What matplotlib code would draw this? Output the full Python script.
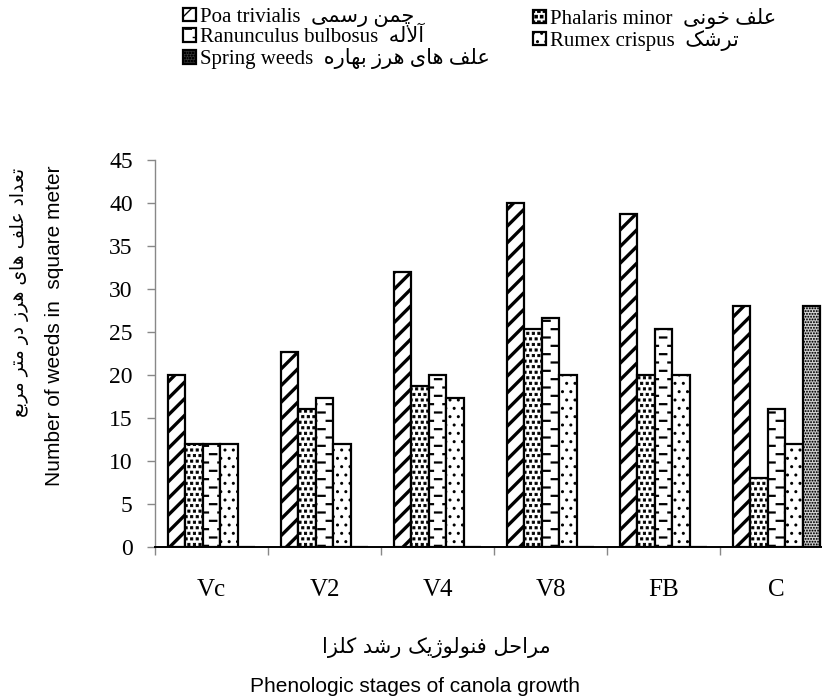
import warnings
warnings.filterwarnings('ignore')
import numpy as np
import matplotlib
matplotlib.use('Agg')
import matplotlib.pyplot as plt
from matplotlib import hatch as mhatch
from matplotlib.path import Path
from matplotlib.patches import Patch

# ---------------- data ----------------
categories = ['Vc', 'V2', 'V4', 'V8', 'FB', 'C']
poa = [20, 22.67, 32, 40, 38.67, 28]
phalaris = [12, 16, 18.67, 25.33, 20, 8]
ranunculus = [12, 17.33, 20, 26.67, 25.33, 16]
rumex = [12, 12, 17.33, 20, 20, 12]
spring = [0, 0, 0, 0, 0, 28]
yticks = [0, 5, 10, 15, 20, 25, 30, 35, 40, 45]

names_en = ['Poa trivialis', 'Phalaris minor', 'Ranunculus bulbosus',
            'Rumex crispus', 'Spring weeds']
names_fa = ['چمن رسمی', 'علف خونی', 'آلاله', 'ترشک', 'علف های هرز بهاره']
ylabel_fa = 'تعداد علف های هرز در متر مربع'
ylabel_en = 'Number of weeds in  square meter'
xlabel_fa = 'مراحل فنولوژیک رشد کلزا'
xlabel_en = 'Phenologic stages of canola growth'

# ---------------- minimal Persian shaping ----------------
FORMS = {
    '\u0627': ('\uFE8D', '\uFE8E', None, None),
    '\u0622': ('\uFE81', '\uFE82', None, None),
    '\u0628': ('\uFE8F', '\uFE90', '\uFE91', '\uFE92'),
    '\u067E': ('\uFB56', '\uFB57', '\uFB58', '\uFB59'),
    '\u062A': ('\uFE95', '\uFE96', '\uFE97', '\uFE98'),
    '\u062B': ('\uFE99', '\uFE9A', '\uFE9B', '\uFE9C'),
    '\u062C': ('\uFE9D', '\uFE9E', '\uFE9F', '\uFEA0'),
    '\u0686': ('\uFB7A', '\uFB7B', '\uFB7C', '\uFB7D'),
    '\u062D': ('\uFEA1', '\uFEA2', '\uFEA3', '\uFEA4'),
    '\u062E': ('\uFEA5', '\uFEA6', '\uFEA7', '\uFEA8'),
    '\u062F': ('\uFEA9', '\uFEAA', None, None),
    '\u0630': ('\uFEAB', '\uFEAC', None, None),
    '\u0631': ('\uFEAD', '\uFEAE', None, None),
    '\u0632': ('\uFEAF', '\uFEB0', None, None),
    '\u0698': ('\uFB8A', '\uFB8B', None, None),
    '\u0633': ('\uFEB1', '\uFEB2', '\uFEB3', '\uFEB4'),
    '\u0634': ('\uFEB5', '\uFEB6', '\uFEB7', '\uFEB8'),
    '\u0635': ('\uFEB9', '\uFEBA', '\uFEBB', '\uFEBC'),
    '\u0636': ('\uFEBD', '\uFEBE', '\uFEBF', '\uFEC0'),
    '\u0637': ('\uFEC1', '\uFEC2', '\uFEC3', '\uFEC4'),
    '\u0638': ('\uFEC5', '\uFEC6', '\uFEC7', '\uFEC8'),
    '\u0639': ('\uFEC9', '\uFECA', '\uFECB', '\uFECC'),
    '\u063A': ('\uFECD', '\uFECE', '\uFECF', '\uFED0'),
    '\u0641': ('\uFED1', '\uFED2', '\uFED3', '\uFED4'),
    '\u0642': ('\uFED5', '\uFED6', '\uFED7', '\uFED8'),
    '\u06A9': ('\uFB8E', '\uFB8F', '\uFB90', '\uFB91'),
    '\u06AF': ('\uFB92', '\uFB93', '\uFB94', '\uFB95'),
    '\u0644': ('\uFEDD', '\uFEDE', '\uFEDF', '\uFEE0'),
    '\u0645': ('\uFEE1', '\uFEE2', '\uFEE3', '\uFEE4'),
    '\u0646': ('\uFEE5', '\uFEE6', '\uFEE7', '\uFEE8'),
    '\u0647': ('\uFEE9', '\uFEEA', '\uFEEB', '\uFEEC'),
    '\u0648': ('\uFEED', '\uFEEE', None, None),
    '\u06CC': ('\uFBFC', '\uFBFD', '\uFBFE', '\uFBFF'),
}
LAMALEF = {'\u0627': ('\uFEFB', '\uFEFC'), '\u0622': ('\uFEF5', '\uFEF6')}


def shape(text):
    ch = list(text)
    n = len(ch)
    out = []

    def joins_next(c):
        return c in FORMS and FORMS[c][2] is not None

    i = 0
    while i < n:
        c = ch[i]
        if c not in FORMS:
            out.append(c)
            i += 1
            continue
        prev = ch[i - 1] if i > 0 else None
        cp = prev is not None and joins_next(prev)
        if c == '\u0644' and i + 1 < n and ch[i + 1] in LAMALEF:
            lig = LAMALEF[ch[i + 1]]
            out.append(lig[1] if cp else lig[0])
            i += 2
            continue
        nxt = ch[i + 1] if i + 1 < n else None
        cn = joins_next(c) and nxt is not None and nxt in FORMS
        iso, fin, ini, med = FORMS[c]
        if cp and cn:
            out.append(med)
        elif cp:
            out.append(fin)
        elif cn:
            out.append(ini)
        else:
            out.append(iso)
        i += 1
    return ''.join(out)[::-1]


# ---------------- custom hatches ----------------
class DashRows(mhatch.HatchPatternBase):
    def __init__(self, hatch, density):
        self.num_rows = int(hatch.count('_') * density)
        self.num_cols = 6
        self.num_vertices = self.num_rows * self.num_cols * 2

    def set_vertices_and_codes(self, vertices, codes):
        k = 0
        L = 0.38 / self.num_cols
        for r in range(self.num_rows):
            y = (r + 0.5) / self.num_rows
            shift = 0.5 if r % 2 else 0.0
            for c in range(self.num_cols):
                x0 = (c + shift + 0.1) / self.num_cols
                vertices[k] = (x0, y)
                vertices[k + 1] = (x0 + L, y)
                codes[k] = Path.MOVETO
                codes[k + 1] = Path.LINETO
                k += 2


SQUARE_V = np.array([[-1, -1], [1, -1], [1, 1], [-1, 1], [-1, -1]], float)
SQUARE_C = np.array([Path.MOVETO, Path.LINETO, Path.LINETO, Path.LINETO,
                     Path.CLOSEPOLY], dtype=Path.code_type)


class FilledSquares(mhatch.Shapes):
    filled = True
    size = 0.2

    def __init__(self, hatch, density):
        self.num_rows = int(hatch.count('s') * density)
        self.shape_vertices = SQUARE_V
        self.shape_codes = SQUARE_C
        super().__init__(hatch, density)


class FineSquares(mhatch.Shapes):
    filled = True
    size = 0.22

    def __init__(self, hatch, density):
        self.num_rows = int(hatch.count('q') * density)
        self.shape_vertices = SQUARE_V
        self.shape_codes = SQUARE_C
        super().__init__(hatch, density)


mhatch._hatch_types.extend([DashRows, FilledSquares, FineSquares])

# ---------------- figure ----------------
plt.rcParams['font.family'] = ['Liberation Serif', 'DejaVu Sans']
W, H = 822, 697
fig = plt.figure(figsize=(W / 100, H / 100), dpi=100)
ax = fig.add_axes([155 / W, 1 - 547 / H, (833 - 155) / W, (547 - 160) / H])

series = [poa, phalaris, ranunculus, rumex, spring]
hatches = ['//', 'sss', '__', '..', 'qqqqqq']
hlw = [2.4, 0.6, 1.6, 1.0, 0.3]
faces = ['white', 'white', 'white', 'white', '#cfcfcf']
bw = 0.155
x = np.arange(len(categories))
handles = []
for i, vals in enumerate(series):
    with plt.rc_context({'hatch.linewidth': hlw[i]}):
        bars = ax.bar(x + (i - 2) * bw, vals, bw, facecolor=faces[i],
                      edgecolor='black', linewidth=1.6, hatch=hatches[i], zorder=2)
        for b in bars:
            if hasattr(b, 'set_hatch_linewidth'):
                b.set_hatch_linewidth(hlw[i])
        hp = Patch(facecolor=faces[i], edgecolor='black', linewidth=1.6, hatch=hatches[i])
        if hasattr(hp, 'set_hatch_linewidth'):
            hp.set_hatch_linewidth(hlw[i])
    handles.append(hp)

ax.set_xlim(-0.5, len(categories) - 0.5)
ax.set_ylim(0, 45)
ax.set_yticks(yticks)
ax.set_yticklabels([str(v) for v in yticks], fontsize=17, family='Liberation Serif')
ax.set_xticks(x)
ax.set_xticklabels(categories, fontsize=18, family='Liberation Serif')
ax.set_xticks(np.arange(-0.5, len(categories)), minor=True)
ax.tick_params(axis='x', which='major', length=0, pad=23)
ax.tick_params(axis='x', which='minor', length=6, color='#888888', width=1, direction='out')
ax.tick_params(axis='y', which='major', length=6, color='#888888', width=1,
               direction='out', pad=10)
for s in ['top', 'right']:
    ax.spines[s].set_visible(False)
ax.spines['left'].set_color('#888888')
ax.spines['left'].set_linewidth(1.0)
ax.spines['bottom'].set_color('black')
ax.spines['bottom'].set_linewidth(1.4)
ax.spines['bottom'].set_zorder(3)

# legend: two columns placed separately
labels = [f'{e}  {shape(f)}' for e, f in zip(names_en, names_fa)]
leg_kw = dict(frameon=False, fontsize=15, handlelength=0.6, handleheight=0.6,
              handletextpad=0.2, labelspacing=0.05, borderpad=0, borderaxespad=0,
              loc='upper left')
col1 = [0, 2, 4]
col2 = [1, 3]
leg1 = fig.legend([handles[k] for k in col1], [labels[k] for k in col1],
                  bbox_to_anchor=(183 / W, 1 - 8 / H), **leg_kw)
leg2 = fig.legend([handles[k] for k in col2], [labels[k] for k in col2],
                  bbox_to_anchor=(533 / W, 1 - 8 / H), **leg_kw)

# axis titles
fig.text(55 / W, 1 - 165 / H, ylabel_en, rotation=90, ha='center', va='top',
         family='Liberation Sans', fontsize=15)
fig.text(20 / W, 1 - 168 / H, shape(ylabel_fa), rotation=90, ha='center', va='top',
         family='DejaVu Sans', fontsize=13.5)
fig.text(436 / W, 1 - 648 / H, shape(xlabel_fa), ha='center', va='center',
         family='DejaVu Sans', fontsize=15)
fig.text(415 / W, 1 - 686 / H, xlabel_en, ha='center', va='center',
         family='Liberation Sans', fontsize=15)

fig.savefig('out.png', dpi=100)
